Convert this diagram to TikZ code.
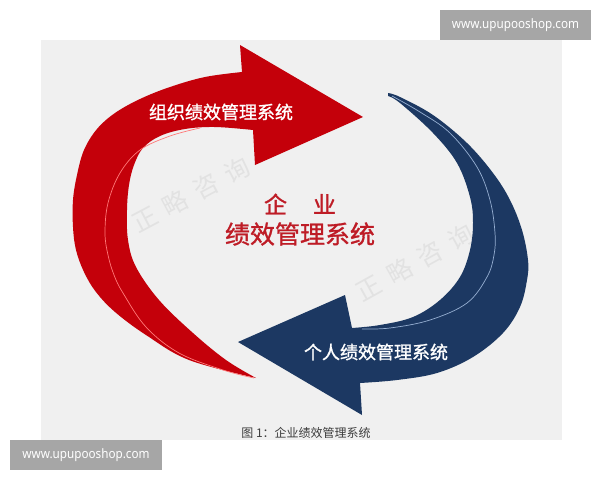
\documentclass[tikz,border=0pt]{standalone}
\usepackage{fontspec}
\newfontfamily\cjk{Noto Sans CJK SC}
\newfontfamily\cjkm{Noto Sans CJK SC}[FakeBold=1.2]
\newfontfamily\wmfont{Noto Sans}
\definecolor{panelbg}{RGB}{240,240,240}
\definecolor{arrowred}{RGB}{196,0,10}
\definecolor{redlight}{RGB}{255,120,120}
\definecolor{arrowblue}{RGB}{28,56,98}
\definecolor{bluelight}{RGB}{150,175,210}
\definecolor{titlered}{RGB}{190,28,38}
\definecolor{captiongray}{RGB}{60,60,60}
\definecolor{wmbox}{RGB}{166,166,166}
\definecolor{wmtext}{RGB}{226,226,226}
\tikzset{
  label/.style={text=white, inner sep=0pt, font=\cjkm\fontsize{18}{18}\selectfont},
  titletext/.style={text=titlered, inner sep=0pt, font=\cjkm\fontsize{25}{25}\selectfont},
  wmark/.style={text=wmtext, inner sep=0pt, font=\cjk\fontsize{25}{25}\selectfont},
  urlbox/.style={fill=wmbox},
  urltext/.style={text=white, inner sep=0pt, font=\wmfont\fontsize{13}{13}\selectfont},
  hilite/.style={line width=0.7pt}
}
\begin{document}
\begin{tikzpicture}[x=1pt,y=-1pt]
\useasboundingbox (0,0) rectangle (600,480);
\fill[white] (0,0) rectangle (600,480);
\fill[panelbg] (41,40) rectangle (562,440);

% watermarks
\node[wmark, rotate=28] (wm1) at (191,195) {正\hspace{10pt}略\hspace{10pt}咨\hspace{10pt}询};
\node[wmark, rotate=29] (wm2) at (415,263) {正\hspace{10pt}略\hspace{10pt}咨\hspace{10pt}询};

% red arrow
\fill[arrowred] (256,378)
  -- plot[smooth, tension=0.6] coordinates {(256,378) (189,360) (146,335) (115,312) (96,292) (84,272) (76,250) (73,227) (73,200) (77,175) (84,150) (97,129) (115,113) (140,99) (170,87) (205,77) (242,72)}
  -- (240,45) -- (363,117) -- (255,165) -- (253,130)
  -- plot[smooth, tension=0.6] coordinates {(253,130) (215,127) (185,129) (160,136) (143,148) (134,165) (129,185) (127,210) (128,240) (136,267) (159,300) (193,333) (226,360) (256,378)}
  -- cycle;
\draw[redlight, hilite] plot[smooth, tension=0.6] coordinates {(200,128) (170,136) (140,150) (120,173) (108,203) (105,233) (108,255) (114,275) (123,293) (146,327) (179,353) (223,370) (254,378)};

% blue arrow
\fill[arrowblue] (388,93)
  -- plot[smooth, tension=0.6] coordinates {(388,93) (400,97) (433,115) (467,143) (493,173) (510,200) (522,230) (528,260) (527,280) (520,307) (503,333) (473,357) (437,373) (397,380) (360,383)}
  -- (362,415) -- (238,342) -- (345,295) -- (352,328)
  -- plot[smooth, tension=0.6] coordinates {(352,328) (380,325) (413,317) (440,300) (460,277) (470,250) (473,223) (470,197) (457,163) (433,133) (400,103) (388,96)}
  -- cycle;
\draw[bluelight, hilite] plot[smooth, tension=0.6] coordinates {(392,96) (420,112) (450,133) (477,167) (490,200) (495,233) (494,255) (487,277) (467,303) (430,320) (390,328) (362,329)};

% labels
\node[label] (org) at (221,112) {组织绩效管理系统};
\node[label] (ind) at (376,352) {个人绩效管理系统};
\node[titletext, font=\cjkm\fontsize{23}{23}\selectfont] (t1) at (300,204) {企\hspace{26pt}业};
\node[titletext] (t2) at (300,234) {绩效管理系统};
\node[text=captiongray, inner sep=0pt, font=\cjk\fontsize{12}{12}\selectfont] (cap) at (306,433) {图 1：企业绩效管理系统};

% url boxes
\fill[urlbox] (440,10) rectangle (591,40);
\node[urltext] (u1) at (515.5,25) {\scalebox{0.9}[1]{www.upupooshop.com}};
\fill[urlbox] (10,440) rectangle (162,470);
\node[urltext] (u2) at (86,455) {\scalebox{0.9}[1]{www.upupooshop.com}};
\end{tikzpicture}
\end{document}
